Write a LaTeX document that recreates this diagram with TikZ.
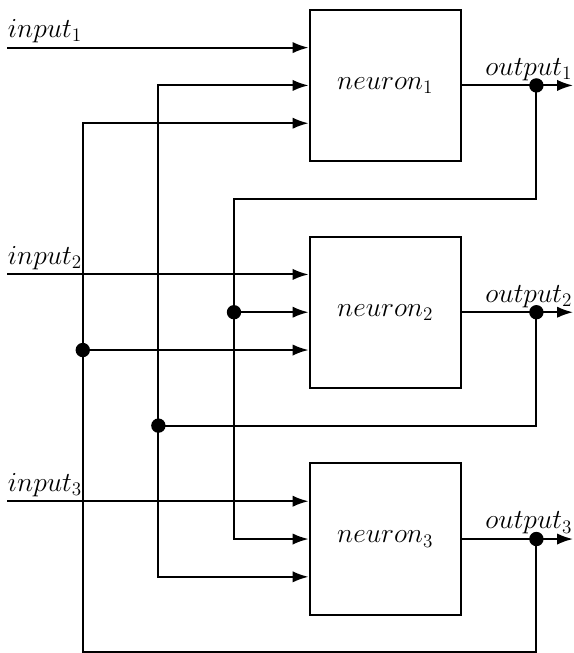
\documentclass[tikz,border=0pt]{standalone}
\usetikzlibrary{arrows.meta}

\begin{document}
\begin{tikzpicture}[
  wire/.style={line width=1.5pt},
  feed/.style={wire,-{Latex[length=12pt,width=8.5pt]}},
  neuronbox/.style={draw,line width=1.5pt,minimum width=4cm,minimum height=4cm,inner sep=0pt},
  junction/.style={circle,fill=black,inner sep=0pt,minimum size=0.38cm},
  lbl/.style={font=\huge},
]
\useasboundingbox (-0.19,0.26) rectangle (14.97,-17.015);

% the three neurons
\node[neuronbox,lbl] (n1) at (10,-2)  {$neuron_1$};
\node[neuronbox,lbl] (n2) at (10,-8)  {$neuron_2$};
\node[neuronbox,lbl] (n3) at (10,-14) {$neuron_3$};

% three input ports on the left side of every neuron
\foreach \k in {1,2,3}{
  \coordinate (n\k a) at ([yshift=1cm]n\k.west);
  \coordinate (n\k b) at (n\k.west);
  \coordinate (n\k c) at ([yshift=-1cm]n\k.west);
}

% external inputs
\coordinate (in1) at (0,-1);
\coordinate (in2) at (0,-7);
\coordinate (in3) at (0,-13);
\node[lbl,above] (lin1) at (1,-1)  {$input_1$};
\node[lbl,above] (lin2) at (1,-7)  {$input_2$};
\node[lbl,above] (lin3) at (1,-13) {$input_3$};
\draw[feed] (in1) -- (n1a);
\draw[feed] (in2) -- (n2a);
\draw[feed] (in3) -- (n3a);

% outputs with branching points
\node[junction] (o1) at (14,-2)  {};
\node[junction] (o2) at (14,-8)  {};
\node[junction] (o3) at (14,-14) {};
\coordinate (e1) at (14.97,-2);
\coordinate (e2) at (14.97,-8);
\coordinate (e3) at (14.97,-14);
\node[lbl,above] (lout1) at (13.8,-2)  {$output_1$};
\node[lbl,above] (lout2) at (13.8,-8)  {$output_2$};
\node[lbl,above] (lout3) at (13.8,-14) {$output_3$};
\draw[feed] (n1.east) -- (o1.center) -- (e1);
\draw[feed] (n2.east) -- (o2.center) -- (e2);
\draw[feed] (n3.east) -- (o3.center) -- (e3);

% feedback of output 1 into neurons 2 and 3
\coordinate (f1a) at (14,-5);
\coordinate (f1b) at (6,-5);
\coordinate (f1c) at (6,-14);
\node[junction] (j1) at (6,-8) {};
\draw[wire] (o1.center) -- (f1a) -- (f1b) -- (j1.center);
\draw[feed] (j1.center) -- (n2b);
\draw[feed] (j1.center) -- (f1c) -- (n3b);

% feedback of output 2 into neurons 1 and 3
\coordinate (f2a) at (14,-11);
\coordinate (f2b) at (4,-2);
\coordinate (f2c) at (4,-15);
\node[junction] (j2) at (4,-11) {};
\draw[wire] (o2.center) -- (f2a) -- (j2.center);
\draw[feed] (j2.center) -- (f2b) -- (n1b);
\draw[feed] (j2.center) -- (f2c) -- (n3c);

% feedback of output 3 into neurons 1 and 2
\coordinate (f3a) at (14,-17);
\coordinate (f3b) at (2,-17);
\coordinate (f3c) at (2,-3);
\node[junction] (j3) at (2,-9) {};
\draw[wire] (o3.center) -- (f3a) -- (f3b) -- (j3.center);
\draw[feed] (j3.center) -- (f3c) -- (n1c);
\draw[feed] (j3.center) -- (n2c);
\end{tikzpicture}
\end{document}
